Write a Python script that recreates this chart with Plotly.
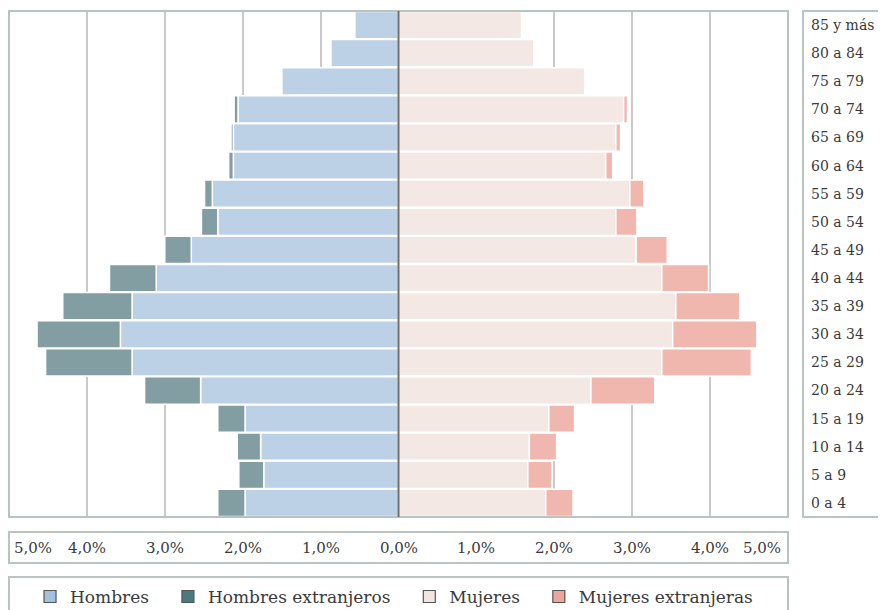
import plotly.graph_objects as go

# ---- data (youngest to oldest) ----
age_groups = ["0 a 4", "5 a 9", "10 a 14", "15 a 19", "20 a 24", "25 a 29", "30 a 34",
              "35 a 39", "40 a 44", "45 a 49", "50 a 54", "55 a 59", "60 a 64",
              "65 a 69", "70 a 74", "75 a 79", "80 a 84", "85 y más"]
hombres = [1.97, 1.73, 1.77, 1.97, 2.54, 3.42, 3.57, 3.42, 3.11, 2.66, 2.32, 2.39,
           2.12, 2.12, 2.06, 1.50, 0.87, 0.56]
hombres_extranjeros = [0.35, 0.32, 0.30, 0.35, 0.72, 1.11, 1.07, 0.89, 0.60, 0.34, 0.21,
                       0.10, 0.06, 0.03, 0.05, 0.01, 0.01, 0.00]
mujeres = [1.89, 1.66, 1.68, 1.93, 2.47, 3.38, 3.52, 3.56, 3.38, 3.05, 2.79, 2.97,
           2.66, 2.79, 2.89, 2.39, 1.74, 1.58]
mujeres_extranjeras = [0.35, 0.31, 0.35, 0.33, 0.82, 1.15, 1.08, 0.82, 0.60, 0.40, 0.27,
                       0.18, 0.09, 0.06, 0.05, 0.01, 0.01, 0.01]
tick_vals = [-5, -4, -3, -2, -1, 0, 1, 2, 3, 4, 5]
tick_labels = ["5,0%", "4,0%", "3,0%", "2,0%", "1,0%", "0,0%",
               "1,0%", "2,0%", "3,0%", "4,0%", "5,0%"]

FONT = "DejaVu Serif"
TXT = "#3a3a3a"
BORDER = "#b9c4bf"
LEG_PAD = "\u2002\u00a0"  # extra spacing between legend entries

series = [
    ("Hombres", hombres, -1, "#bcd0e6", "#a3c0dc"),
    ("Hombres extranjeros", hombres_extranjeros, -1, "#829ea2", "#4b7a7e"),
    ("Mujeres", mujeres, 1, "#f3e8e4", "#f2e4df"),
    ("Mujeres extranjeras", mujeres_extranjeras, 1, "#efb7ad", "#eda69b"),
]

fig = go.Figure()
for name, vals, sign, col, legcol in series:
    fig.add_trace(go.Bar(
        y=age_groups, x=[sign * v for v in vals], orientation="h",
        name=name, legendgroup=name, showlegend=False,
        marker=dict(color=col, line=dict(color="white", width=1.5)),
        customdata=vals,
        hovertemplate=name + "<br>%{y}: %{customdata:.2f}%<extra></extra>",
    ))
for name, vals, sign, col, legcol in series:
    fig.add_trace(go.Bar(
        y=[None], x=[None], orientation="h", name=name + LEG_PAD, legendgroup=name,
        marker=dict(color=legcol, line=dict(color="#555555", width=1.2)),
        hoverinfo="skip",
    ))

shapes = [
    # plot frame
    dict(type="rect", xref="paper", yref="paper", x0=0, x1=1, y0=0, y1=1,
         line=dict(color=BORDER, width=2), layer="above"),
    # center line
    dict(type="line", xref="x", yref="paper", x0=0, x1=0, y0=0, y1=1,
         line=dict(color="#6e6e6e", width=2), layer="above"),
    # tick label box
    dict(type="rect", xref="paper", yref="paper", x0=0, x1=1, y0=-0.0909, y1=-0.0296,
         line=dict(color=BORDER, width=2)),
    # legend box
    dict(type="rect", xref="paper", yref="paper", x0=0, x1=1, y0=-0.20, y1=-0.1186,
         line=dict(color=BORDER, width=2)),
    # age label box
    dict(type="rect", xref="paper", yref="paper", x0=1.0193, x1=1.14, y0=0, y1=1,
         line=dict(color=BORDER, width=2)),
]

annotations = []
for v, t in zip(tick_vals, tick_labels):
    if v == tick_vals[0]:
        anchor, shift = "left", 3
    elif v == tick_vals[-1]:
        anchor, shift = "right", -5
    else:
        anchor, shift = "center", 0
    annotations.append(dict(x=v, xref="x", y=-0.0603, yref="paper", text=t,
                            showarrow=False, xanchor=anchor, yanchor="middle",
                            xshift=shift, font=dict(family=FONT, size=15, color=TXT)))

fig.update_layout(
    width=878, height=602,
    margin=dict(l=1, r=98, t=3, b=93, autoexpand=False),
    paper_bgcolor="white", plot_bgcolor="white",
    barmode="relative", bargap=0.03,
    font=dict(family=FONT, size=15, color=TXT),
    xaxis=dict(range=[-5, 5], tickvals=tick_vals, showticklabels=False,
               showgrid=True, gridcolor="#cacaca", gridwidth=1.5,
               zeroline=False, showline=False, fixedrange=True),
    yaxis=dict(type="category", categoryorder="array", categoryarray=age_groups,
               range=[-0.5, len(age_groups) - 0.5], side="right",
               showgrid=False, zeroline=False, showline=False,
               ticks="", ticklabelstandoff=22,
               tickfont=dict(family=FONT, size=14, color=TXT), fixedrange=True),
    legend=dict(orientation="h", x=0.027, xanchor="left", y=-0.158, yanchor="middle",
                font=dict(family=FONT, size=17, color=TXT), bgcolor="rgba(0,0,0,0)",
                traceorder="normal"),
    shapes=shapes, annotations=annotations,
)

fig.write_html("out.html")
